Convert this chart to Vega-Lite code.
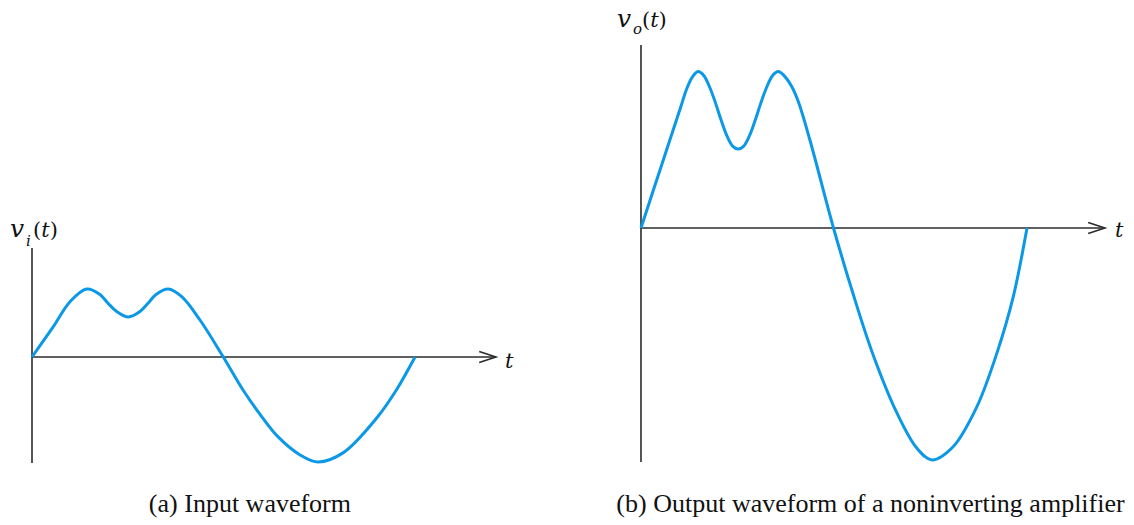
{
  "$schema": "https://vega.github.io/schema/vega-lite/v6.json",
  "padding": 0,
  "spacing": 0,
  "background": "white",
  "config": {"view": {"stroke": null}},
  "datasets": {
    "input": [
      {"t": 0, "v": 0}, {"t": 0.0556, "v": 0.446}, {"t": 0.0992, "v": 0.813}, {"t": 0.1428, "v": 1.0},
      {"t": 0.1775, "v": 0.92}, {"t": 0.1984, "v": 0.79}, {"t": 0.2211, "v": 0.67}, {"t": 0.2514, "v": 0.59},
      {"t": 0.282, "v": 0.67}, {"t": 0.3029, "v": 0.79}, {"t": 0.3238, "v": 0.92}, {"t": 0.3559, "v": 1.0},
      {"t": 0.3909, "v": 0.887}, {"t": 0.4386, "v": 0.544}, {"t": 0.4995, "v": 0}, {"t": 0.551, "v": -0.485},
      {"t": 0.595, "v": -0.84}, {"t": 0.640, "v": -1.16}, {"t": 0.700, "v": -1.44}, {"t": 0.747, "v": -1.544},
      {"t": 0.812, "v": -1.41}, {"t": 0.901, "v": -0.89}, {"t": 0.953, "v": -0.47}, {"t": 1.0, "v": 0}
    ],
    "output": [
      {"t": 0, "v": 0}, {"t": 0.0578, "v": 1.0}, {"t": 0.103, "v": 1.78}, {"t": 0.118, "v": 2.04},
      {"t": 0.133, "v": 2.22}, {"t": 0.148, "v": 2.30}, {"t": 0.163, "v": 2.24}, {"t": 0.178, "v": 2.07},
      {"t": 0.193, "v": 1.84}, {"t": 0.208, "v": 1.58}, {"t": 0.223, "v": 1.35}, {"t": 0.238, "v": 1.20},
      {"t": 0.2518, "v": 1.16}, {"t": 0.2656, "v": 1.20}, {"t": 0.2806, "v": 1.35}, {"t": 0.2956, "v": 1.58},
      {"t": 0.3106, "v": 1.84}, {"t": 0.3256, "v": 2.07}, {"t": 0.3406, "v": 2.24}, {"t": 0.3556, "v": 2.30},
      {"t": 0.3706, "v": 2.24}, {"t": 0.3904, "v": 2.08}, {"t": 0.4075, "v": 1.86}, {"t": 0.4378, "v": 1.29},
      {"t": 0.4987, "v": 0}, {"t": 0.549, "v": -0.96}, {"t": 0.601, "v": -1.86}, {"t": 0.663, "v": -2.72},
      {"t": 0.715, "v": -3.24}, {"t": 0.754, "v": -3.41}, {"t": 0.808, "v": -3.22}, {"t": 0.870, "v": -2.63},
      {"t": 0.922, "v": -1.84}, {"t": 0.964, "v": -1.02}, {"t": 1.0, "v": 0}
    ]
  },
  "hconcat": [
    {
      "width": 560,
      "height": 525,
      "encoding": {
        "x": {"field": "t", "type": "quantitative", "axis": null, "scale": {"domain": [-0.08355, 1.3786], "zero": false, "nice": false}},
        "y": {"field": "v", "type": "quantitative", "axis": null, "scale": {"domain": [-2.4706, 5.25], "zero": false, "nice": false}}
      },
      "layer": [
        {
          "data": {"values": [
            {"t": 0, "t2": 0, "v": -1.56, "v2": 1.603},
            {"t": 0, "t2": 1.2115, "v": 0, "v2": 0}
          ]},
          "mark": {"type": "rule", "color": "#2b2b2b", "strokeWidth": 1.6},
          "encoding": {"x2": {"field": "t2"}, "y2": {"field": "v2"}}
        },
        {
          "data": {"values": [{"t": 1.2115, "v": 0}]},
          "mark": {"type": "point", "filled": false, "color": "#2b2b2b", "strokeWidth": 1.6, "size": 256, "opacity": 1,
                   "shape": "M-2.1,-0.7L0,0L-2.1,0.7"}
        },
        {
          "data": {"name": "input"},
          "mark": {"type": "line", "color": "#0b98e6", "strokeWidth": 3, "interpolate": "catmull-rom"}
        },
        {
          "data": {"values": [{"t": -0.0574, "v": 1.765, "label": "𝑣"}]},
          "mark": {"type": "text", "font": "DejaVu Serif", "fontSize": 25, "align": "left", "baseline": "alphabetic", "color": "#111"},
          "encoding": {"text": {"field": "label"}}
        },
        {
          "data": {"values": [{"t": -0.0157, "v": 1.632, "label": "𝑖"}]},
          "mark": {"type": "text", "font": "DejaVu Serif", "fontSize": 15, "align": "left", "baseline": "alphabetic", "color": "#111"},
          "encoding": {"text": {"field": "label"}}
        },
        {
          "data": {"values": [{"t": 0.0026, "v": 1.765, "label": "(𝑡)"}, {"t": 1.235, "v": -0.162, "label": "𝑡"}]},
          "mark": {"type": "text", "font": "DejaVu Serif", "fontSize": 21, "align": "left", "baseline": "alphabetic", "color": "#111"},
          "encoding": {"text": {"field": "label"}}
        },
        {
          "data": {"values": [{"t": 0.569, "v": -2.279, "label": "(a) Input waveform"}]},
          "mark": {"type": "text", "font": "Liberation Serif", "fontSize": 26, "align": "center", "baseline": "alphabetic", "color": "#111"},
          "encoding": {"text": {"field": "label"}}
        }
      ]
    },
    {
      "width": 574,
      "height": 525,
      "encoding": {
        "x": {"field": "t", "type": "quantitative", "axis": null, "scale": {"domain": [-0.2098, 1.2772], "zero": false, "nice": false}},
        "y": {"field": "v", "type": "quantitative", "axis": null, "scale": {"domain": [-4.3676, 3.3529], "zero": false, "nice": false}}
      },
      "layer": [
        {
          "data": {"values": [
            {"t": 0, "t2": 0, "v": -3.441, "v2": 2.691},
            {"t": 0, "t2": 1.202, "v": 0, "v2": 0}
          ]},
          "mark": {"type": "rule", "color": "#2b2b2b", "strokeWidth": 1.6},
          "encoding": {"x2": {"field": "t2"}, "y2": {"field": "v2"}}
        },
        {
          "data": {"values": [{"t": 1.202, "v": 0}]},
          "mark": {"type": "point", "filled": false, "color": "#2b2b2b", "strokeWidth": 1.6, "size": 256, "opacity": 1,
                   "shape": "M-2.1,-0.7L0,0L-2.1,0.7"}
        },
        {
          "data": {"name": "output"},
          "mark": {"type": "line", "color": "#0b98e6", "strokeWidth": 3, "interpolate": "catmull-rom"}
        },
        {
          "data": {"values": [{"t": -0.0622, "v": 2.956, "label": "𝑣"}]},
          "mark": {"type": "text", "font": "DejaVu Serif", "fontSize": 25, "align": "left", "baseline": "alphabetic", "color": "#111"},
          "encoding": {"text": {"field": "label"}}
        },
        {
          "data": {"values": [{"t": -0.0207, "v": 2.853, "label": "𝑜"}]},
          "mark": {"type": "text", "font": "DejaVu Serif", "fontSize": 15, "align": "left", "baseline": "alphabetic", "color": "#111"},
          "encoding": {"text": {"field": "label"}}
        },
        {
          "data": {"values": [{"t": 0.0026, "v": 2.956, "label": "(𝑡)"}, {"t": 1.228, "v": -0.132, "label": "𝑡"}]},
          "mark": {"type": "text", "font": "DejaVu Serif", "fontSize": 21, "align": "left", "baseline": "alphabetic", "color": "#111"},
          "encoding": {"text": {"field": "label"}}
        },
        {
          "data": {"values": [{"t": 0.5946, "v": -4.176, "label": "(b) Output waveform of a noninverting amplifier"}]},
          "mark": {"type": "text", "font": "Liberation Serif", "fontSize": 26, "align": "center", "baseline": "alphabetic", "color": "#111"},
          "encoding": {"text": {"field": "label"}}
        }
      ]
    }
  ]
}
